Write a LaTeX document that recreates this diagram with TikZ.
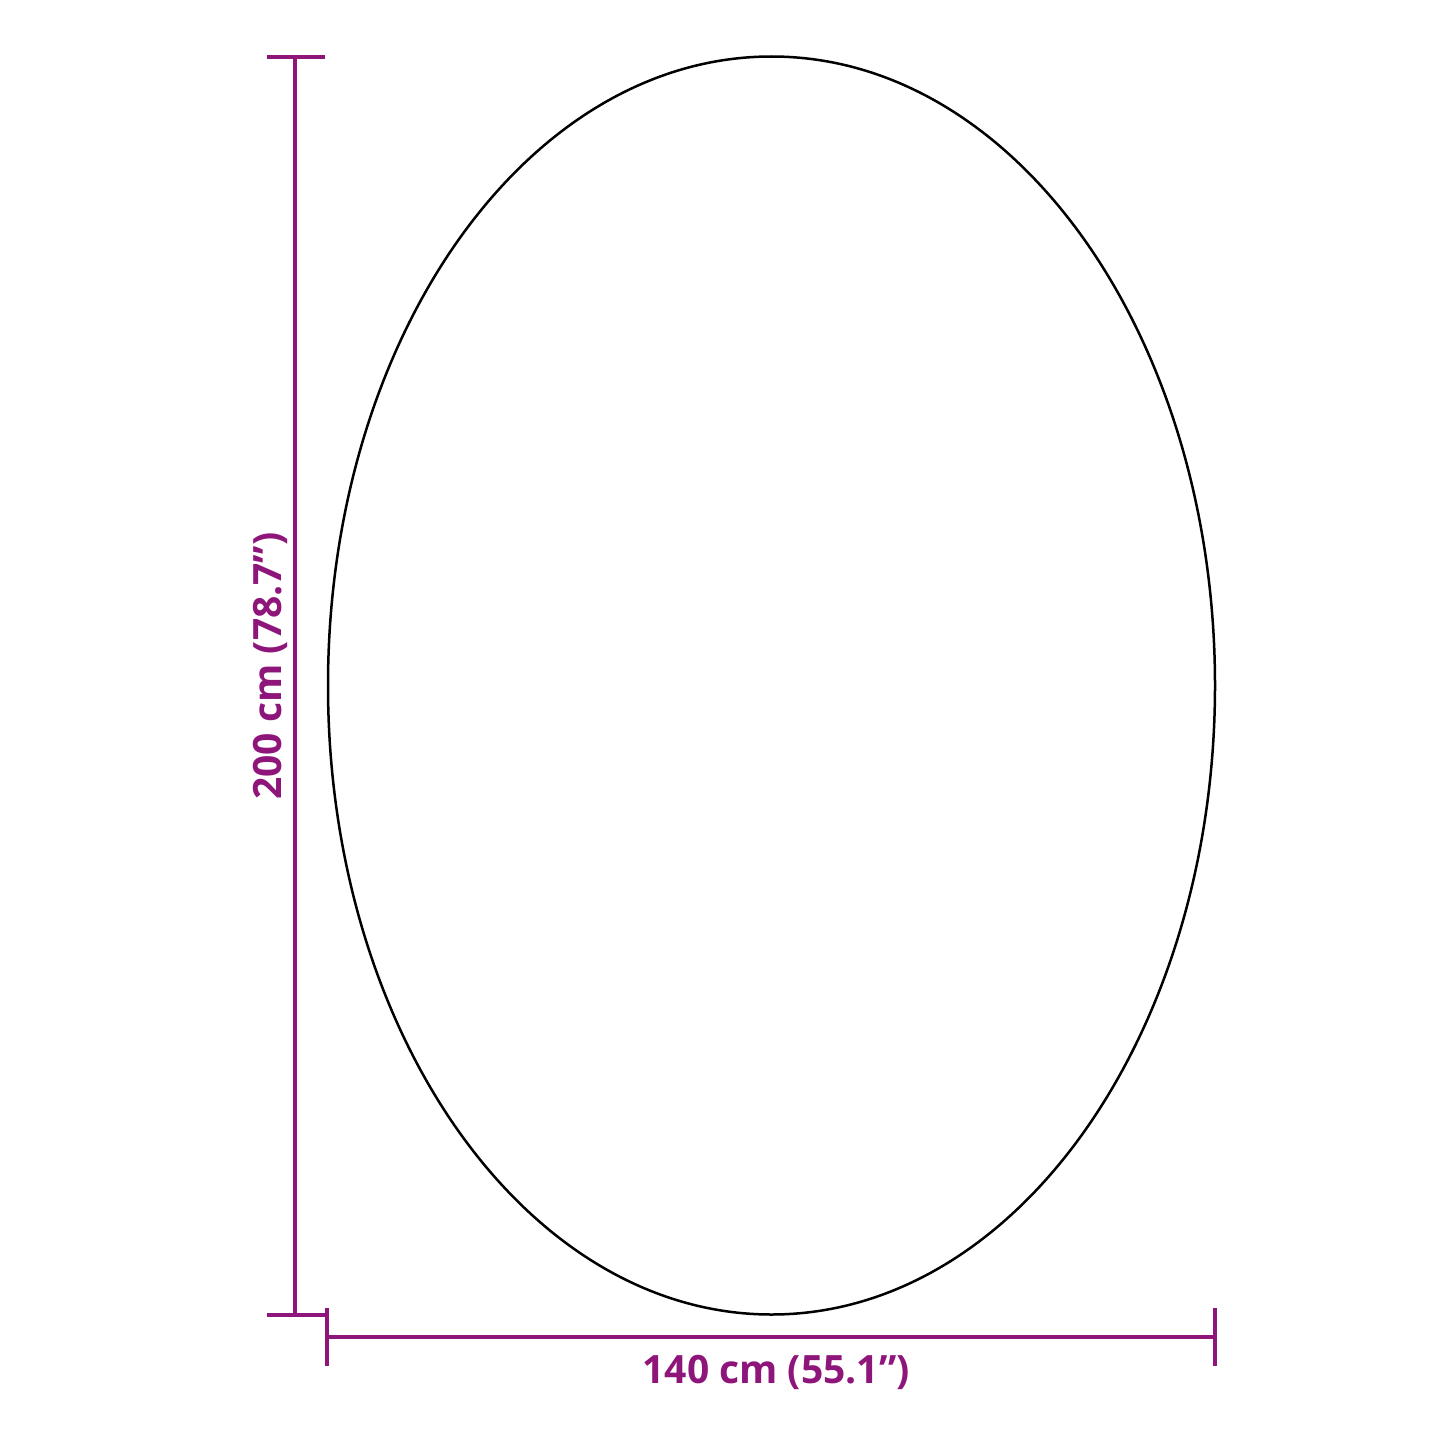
\documentclass[tikz,border=0pt]{standalone}
\usepackage{fontspec}
\setmainfont{Open Sans}
\usetikzlibrary{positioning,shapes.geometric}
\definecolor{dimpurple}{RGB}{142, 21, 122}
\tikzstyle{dimline} = [draw=dimpurple, line width=2pt]
\tikzstyle{dimlabel} = [text=dimpurple, font=\bfseries\fontsize{19.5}{23}\selectfont, inner sep=0pt]
\tikzstyle{mirror} = [ellipse, draw=black, line width=1.25pt, inner sep=0pt, minimum width=443.5pt, minimum height=629pt]

\begin{document}
\begin{tikzpicture}[x=0.5pt, y=-0.5pt]

\useasboundingbox (0,0) rectangle (1445,1445);

% mirror =============================
\node[mirror] (oval) at (771.5,685.5) {};

% height dimension
\coordinate (htop) at (295,57);
\coordinate (hbot) at (295,1315);
\coordinate (htopl) at (267,57);
\coordinate (htopr) at (325,57);
\coordinate (hbotl) at (267,1315);
\coordinate (hbotr) at (325,1315);
\path[dimline] (htop) -- (hbot);
\path[dimline] (htopl) -- (htopr);
\path[dimline] (hbotl) -- (hbotr);
\node[dimlabel, rotate=90] (hlabel) at (270,666) {200 cm (78.7”)};

% width dimension
\coordinate (wleft) at (327,1337);
\coordinate (wright) at (1215,1337);
\coordinate (wlefttop) at (327,1308);
\coordinate (wleftbot) at (327,1366);
\coordinate (wrighttop) at (1215,1308);
\coordinate (wrightbot) at (1215,1366);
\path[dimline] (wleft) -- (wright);
\path[dimline] (wlefttop) -- (wleftbot);
\path[dimline] (wrighttop) -- (wrightbot);
\node[dimlabel] (wlabel) at (776,1372) {140 cm (55.1”)};

\end{tikzpicture}
\end{document}
